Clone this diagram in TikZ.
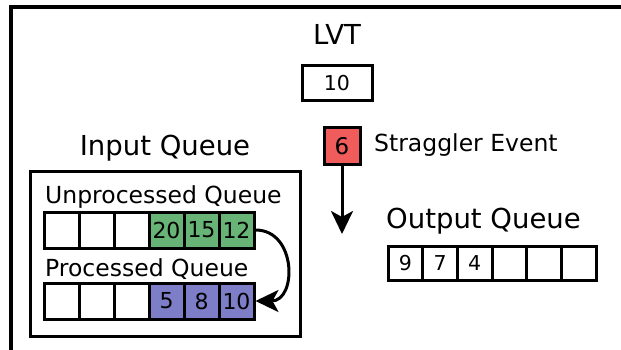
\documentclass[tikz,border=0pt]{standalone}
\usepackage{fontspec}
\setmainfont{DejaVu Sans}
\usetikzlibrary{arrows.meta}
\definecolor{qgreen}{RGB}{104,180,118}
\definecolor{qblue}{RGB}{126,126,200}
\definecolor{qred}{RGB}{240,92,92}
\tikzset{
  cell/.style={draw, line width=3pt, minimum width=35pt, minimum height=36pt, inner sep=0pt,
    font=\fontsize{22}{24}\selectfont},
  ocell/.style={draw, line width=3pt, minimum width=34.7pt, minimum height=34pt, inner sep=0pt,
    font=\fontsize{20.5}{22}\selectfont},
  biglabel/.style={inner sep=0pt, font=\fontsize{27.5}{30}\selectfont},
  midlabel/.style={inner sep=0pt, font=\fontsize{23.5}{26}\selectfont},
  frame/.style={line width=4pt},
  box/.style={line width=3pt},
  arr/.style={line width=3pt, -{Stealth[length=23pt,width=22pt,inset=6pt]}}
}
\begin{document}
\begin{tikzpicture}[x=1pt,y=-1pt]
\useasboundingbox (0,0) rectangle (621,350);
% outer frame (cropped)
\draw[frame] (10.5,354) -- (10.5,7) -- (625,7);
% LVT
\node[biglabel, anchor=base] (lvtlabel) at (337,45) {LVT};
\node[draw, line width=3pt, minimum width=70pt, minimum height=35pt, inner sep=0pt,
  font=\fontsize{20.5}{22}\selectfont] (lvt) at (337,83.5) {10};
% Input queue
\node[biglabel, anchor=base] (inlabel) at (165,155) {Input Queue};
\node[draw, box, minimum width=270pt, minimum height=165pt, inner sep=0pt] (inbox) at (165,253.5) {};
\node[midlabel, anchor=base west] (unlabel) at (45,203) {Unprocessed Queue};
\node[midlabel, anchor=base west] (prlabel) at (45,276) {Processed Queue};
% unprocessed cells
\node[cell] (u1) at (61.5,230) {};
\node[cell] (u2) at (96.5,230) {};
\node[cell] (u3) at (131.5,230) {};
\node[cell, fill=qgreen] (u4) at (166.5,230) {20};
\node[cell, fill=qgreen] (u5) at (201.5,230) {15};
\node[cell, fill=qgreen] (u6) at (236.5,230) {12};
% processed cells
\node[cell] (p1) at (61.5,301) {};
\node[cell] (p2) at (96.5,301) {};
\node[cell] (p3) at (131.5,301) {};
\node[cell, fill=qblue] (p4) at (166.5,301) {5};
\node[cell, fill=qblue] (p5) at (201.5,301) {8};
\node[cell, fill=qblue] (p6) at (236.5,301) {10};
\draw[arr] (u6.east) .. controls (297,230) and (297,301) .. (p6.east);
% straggler
\node[draw, line width=3pt, fill=qred, minimum width=36pt, minimum height=36pt, inner sep=0pt,
  font=\fontsize{23}{25}\selectfont] (strag) at (342,146) {6};
\node[midlabel, anchor=base west] (straglabel) at (374,152) {Straggler Event};
\coordinate (stragend) at (342,234);
\draw[arr] (strag.south) -- (stragend);
% output queue
\node[biglabel, anchor=base west] (outlabel) at (386,228) {Output Queue};
\node[ocell] (o1) at (405.35,263) {9};
\node[ocell] (o2) at (440.05,263) {7};
\node[ocell] (o3) at (474.75,263) {4};
\node[ocell] (o4) at (509.45,263) {};
\node[ocell] (o5) at (544.15,263) {};
\node[ocell] (o6) at (578.85,263) {};
\end{tikzpicture}
\end{document}
